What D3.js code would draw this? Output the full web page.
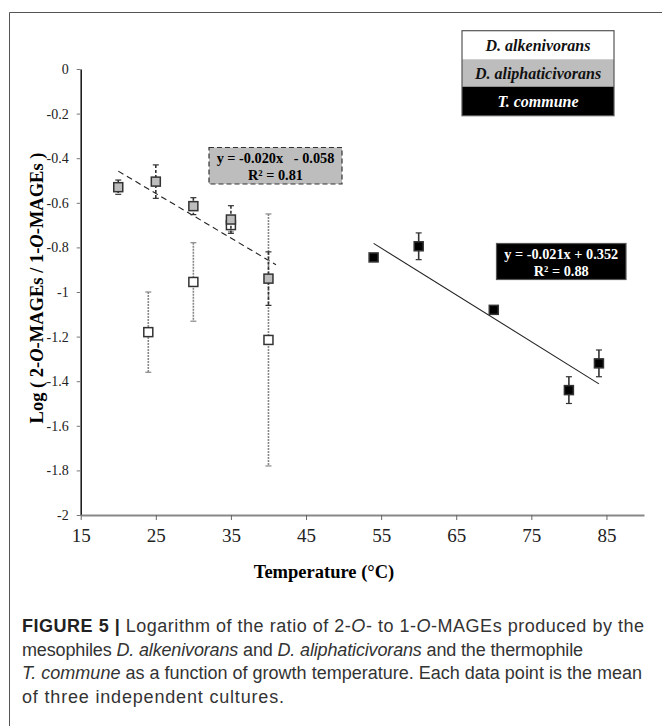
<!DOCTYPE html>
<html>
<head>
<meta charset="utf-8">
<script src="https://cdn.jsdelivr.net/npm/d3@7"></script>
<style>
  body { margin: 0; background: #fff; }
  svg { display: block; }
</style>
</head>
<body>
<div class="chart"></div>
<script>
// values
const xTicks = [15, 25, 35, 45, 55, 65, 75, 85];
const yTicks = [0, -0.2, -0.4, -0.6, -0.8, -1, -1.2, -1.4, -1.6, -1.8, -2];

const alkTemp = [24, 30, 35, 40];
const alkVal = [-1.18, -0.955, -0.70, -1.215];
const alkErr = [0.18, 0.176, 0.03, 0.565];

const aliTemp = [20, 25, 30, 35, 40];
const aliVal = [-0.53, -0.505, -0.615, -0.675, -0.94];
const aliErr = [0.032, 0.075, 0.038, 0.062, 0.12];

const comTemp = [54, 60, 70, 80, 84];
const comVal = [-0.845, -0.795, -1.08, -1.44, -1.32];
const comErr = [0.01, 0.06, 0.01, 0.06, 0.06];

// trend lines: slope, intercept, x range
const aliFit = [-0.020, -0.058, 20, 41];
const comFit = [-0.021, 0.352, 54, 84];

const legendNames = ["D. alkenivorans", "D. aliphaticivorans", "T. commune"];

function drawChart() {
    const width = 662, height = 726;
    const serif = "Liberation Serif, Times New Roman, serif";

    const svg = d3.select(".chart").append("svg")
        .attr("width", width)
        .attr("height", height);

    // outer frame (only left and top edges are in view)
    svg.append("path")
        .attr("d", "M9.5,726 V12.5 H662")
        .attr("fill", "none")
        .attr("stroke", "#555")
        .attr("stroke-width", 1);

    const x = d3.scaleLinear().domain([15, 90]).range([80.7, 644]);
    const y = d3.scaleLinear().domain([-2, 0]).range([515, 69]);

    // y axis
    const yAxis = svg.append("g")
        .attr("transform", "translate(80.7,0)")
        .call(d3.axisLeft(y).tickValues(yTicks).tickSize(4).tickSizeOuter(0).tickFormat(d => String(d)))
        .attr("font-family", serif)
        .attr("font-size", 14);
    yAxis.select(".domain").attr("stroke", "#111").attr("stroke-width", 1.5);
    yAxis.selectAll(".tick line").attr("stroke", "#777");
    yAxis.selectAll(".tick text").attr("x", -12).attr("fill", "#222");

    // x axis
    const xAxis = svg.append("g")
        .attr("transform", "translate(0,515)")
        .call(d3.axisBottom(x).tickValues(xTicks).tickSize(5).tickSizeOuter(0))
        .attr("font-family", serif)
        .attr("font-size", 19);
    xAxis.select(".domain").attr("stroke", "#888").attr("stroke-width", 2);
    xAxis.selectAll(".tick line").attr("stroke", "#666");
    xAxis.selectAll(".tick text").attr("y", 14).attr("fill", "#222");

    // axis titles
    svg.append("text")
        .attr("x", 324).attr("y", 578)
        .attr("text-anchor", "middle")
        .attr("font-family", serif)
        .attr("font-size", 18.5)
        .attr("font-weight", "bold")
        .text("Temperature (°C)");

    const yl = svg.append("text")
        .attr("transform", "translate(43,288) rotate(-90)")
        .attr("text-anchor", "middle")
        .attr("font-family", serif)
        .attr("font-size", 18.5)
        .attr("font-weight", "bold");
    yl.append("tspan").text("Log ( 2-");
    yl.append("tspan").attr("font-style", "italic").text("O");
    yl.append("tspan").text("-MAGEs / 1-");
    yl.append("tspan").attr("font-style", "italic").text("O");
    yl.append("tspan").text("-MAGEs )");

    // trend lines
    function fitLine(fit, dash) {
        const pts = [fit[2], fit[3]].map(t => [x(t), y(fit[0] * t + fit[1])]);
        svg.append("path")
            .attr("d", d3.line()(pts))
            .attr("stroke", "#222")
            .attr("stroke-width", 1.1)
            .attr("stroke-dasharray", dash)
            .attr("fill", "none");
    }
    fitLine(aliFit, "6,4");
    fitLine(comFit, null);

    // series
    function series(temps, vals, errs, fill, barColor, dash) {
        const data = temps.map((t, i) => ({ t: t, v: vals[i], e: errs[i] }));
        const g = svg.append("g");
        const bars = g.selectAll(".bar").data(data).enter().append("g");
        bars.append("line")
            .attr("x1", d => x(d.t)).attr("x2", d => x(d.t))
            .attr("y1", d => y(d.v + d.e)).attr("y2", d => y(d.v - d.e))
            .attr("stroke", barColor).attr("stroke-width", 1.6)
            .attr("stroke-dasharray", dash);
        [1, -1].forEach(s => {
            bars.append("line")
                .attr("x1", d => x(d.t) - 3).attr("x2", d => x(d.t) + 3)
                .attr("y1", d => y(d.v + s * d.e)).attr("y2", d => y(d.v + s * d.e))
                .attr("stroke", barColor).attr("stroke-width", 1.2);
        });
        g.selectAll("rect").data(data).enter().append("rect")
            .attr("x", d => x(d.t) - 4.5)
            .attr("y", d => y(d.v) - 4.5)
            .attr("width", 9).attr("height", 9)
            .attr("fill", fill)
            .attr("stroke", "#333")
            .attr("stroke-width", 1.5);
    }
    series(alkTemp, alkVal, alkErr, "#fff", "#888", "2,1");
    series(aliTemp, aliVal, aliErr, "#bdbdbd", "#333", "3,2");
    series(comTemp, comVal, comErr, "#000", "#333", null);

    // equation boxes
    function eqBox(x0, y0, w, h, fill, stroke, dash, color, lines) {
        svg.append("rect")
            .attr("x", x0).attr("y", y0).attr("width", w).attr("height", h)
            .attr("fill", fill).attr("stroke", stroke).attr("stroke-width", 1.2)
            .attr("stroke-dasharray", dash);
        lines.forEach((s, i) => {
            svg.append("text")
                .attr("x", x0 + w / 2).attr("y", y0 + 15.5 + i * 16.5)
                .attr("text-anchor", "middle")
                .attr("xml:space", "preserve")
                .attr("font-family", serif)
                .attr("font-size", 14.3)
                .attr("font-weight", "bold")
                .attr("fill", color)
                .text(s);
        });
    }
    eqBox(209, 147.5, 133, 36.5, "#bdbdbd", "#333", "5,3", "#000",
        [`y = ${aliFit[0].toFixed(3)}x   - ${Math.abs(aliFit[1]).toFixed(3)}`, "R² = 0.81"]);
    eqBox(496.5, 243.5, 129.5, 36, "#000", "#555", null, "#fff",
        [`y = ${comFit[0].toFixed(3)}x + ${comFit[1].toFixed(3)}`, "R² = 0.88"]);

    // legend
    const legFill = ["#fff", "#bdbdbd", "#000"];
    const legText = ["#111", "#111", "#fff"];
    const rowTop = [30.7, 59.3, 86.7, 115.7];
    const lg = svg.append("g");
    legendNames.forEach((n, i) => {
        lg.append("rect")
            .attr("x", 462).attr("y", rowTop[i])
            .attr("width", 152).attr("height", rowTop[i + 1] - rowTop[i])
            .attr("fill", legFill[i]);
        lg.append("text")
            .attr("x", 538).attr("y", (rowTop[i] + rowTop[i + 1]) / 2 + 5.5)
            .attr("text-anchor", "middle")
            .attr("font-family", serif)
            .attr("font-size", 16)
            .attr("font-weight", "bold")
            .attr("font-style", "italic")
            .attr("fill", legText[i])
            .text(n);
    });
    lg.append("rect")
        .attr("x", 462).attr("y", 30.7).attr("width", 152).attr("height", 85)
        .attr("fill", "none").attr("stroke", "#555").attr("stroke-width", 1.2);

    // caption, one text per line fitted to the reference line widths
    const capLines = [
        [["FIGURE 5 | ", "b"], ["Logarithm of the ratio of 2-", ""], ["O", "i"], ["- to 1-", ""], ["O", "i"], ["-MAGEs produced by the", ""]],
        [["mesophiles ", ""], ["D. alkenivorans", "i"], [" and ", ""], ["D. aliphaticivorans", "i"], [" and the thermophile", ""]],
        [["T. commune", "i"], [" as a function of growth temperature. Each data point is the mean", ""]],
        [["of three independent cultures.", ""]]
    ];
    const capWidths = [622, 561, 620, 262];
    capLines.forEach((parts, li) => {
        const line = svg.append("text")
            .attr("x", 22).attr("y", 632 + li * 23.5)
            .attr("font-family", "Liberation Sans, Arial, sans-serif")
            .attr("font-size", 18)
            .attr("fill", "#333")
            .attr("textLength", capWidths[li])
            .attr("lengthAdjust", "spacing");
        parts.forEach(p => {
            const ts = line.append("tspan").text(p[0]);
            if (p[1] === "b") ts.attr("font-weight", "bold").attr("fill", "#222");
            if (p[1] === "i") ts.attr("font-style", "italic");
        });
    });
}

drawChart();
</script>
</body>
</html>
